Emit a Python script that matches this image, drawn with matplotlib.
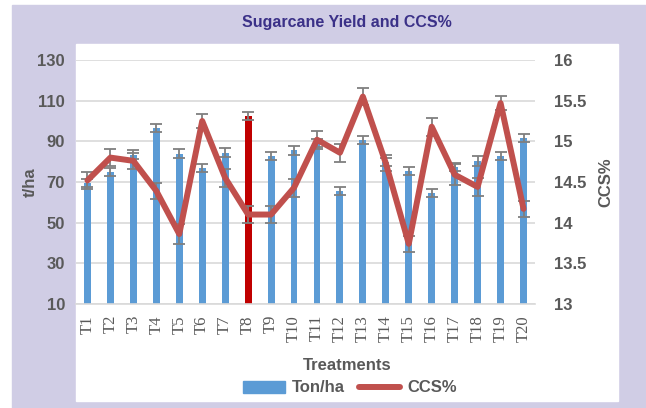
import numpy as np
import matplotlib
matplotlib.use("Agg")
import matplotlib.pyplot as plt
from matplotlib.patches import Rectangle
from matplotlib.lines import Line2D
from matplotlib.patches import Patch

treatments = ["T%d" % i for i in range(1, 21)]
ton_ha = [69.5, 75, 83.5, 96.5, 84, 77, 84.5, 102.5, 83, 85.5,
          89, 65.5, 90.5, 80, 75.5, 64.5, 77.5, 80.5, 83, 91.5]
ton_err = [2, 2, 2, 2, 2, 2, 2, 2, 2, 2,
           2, 2, 2, 2, 2, 2, 2, 2.5, 2, 2]
ccs = [14.52, 14.8, 14.76, 14.39, 13.86, 15.25, 14.55, 14.1, 14.1, 14.43,
       15.02, 14.86, 15.55, 14.73, 13.74, 15.18, 14.59, 14.44, 15.47, 14.17]
ccs_err = [0.1, 0.1, 0.1, 0.1, 0.12, 0.08, 0.11, 0.11, 0.11, 0.11,
           0.11, 0.11, 0.1, 0.1, 0.1, 0.11, 0.13, 0.11, 0.09, 0.1]
highlight = "T8"

W, H = 646, 408
fig = plt.figure(figsize=(W / 100, H / 100), dpi=100)
fig.patch.set_facecolor("white")

def px(x0, y0, x1, y1):
    """figure-fraction rectangle from pixel box"""
    return (x0 / W, 1 - y1 / H), (x1 - x0) / W, (y1 - y0) / H

lav = "#D0CDE5"
xy, w, h = px(12, 5, 646, 408)
fig.patches.append(Rectangle(xy, w, h, transform=fig.transFigure, color=lav, zorder=-10))
xy, w, h = px(76, 44, 618, 401)
fig.patches.append(Rectangle(xy, w, h, transform=fig.transFigure, color="white", zorder=-9))

gray = "#595959"
ax = fig.add_axes([76 / W, 1 - 304 / H, (535 - 76) / W, (304 - 60) / H])
ax.patch.set_alpha(0)
x = np.arange(len(treatments))
colors = ["#C00000" if t == highlight else "#5B9BD5" for t in treatments]
ax.bar(x, ton_ha, width=0.3, color=colors, zorder=2)
ax.errorbar(x, ton_ha, yerr=ton_err, fmt="none", ecolor="#7F7F7F",
            elinewidth=1.3, capsize=4, capthick=1.3, zorder=3)
ax.set_ylim(10, 130)
ax.set_xlim(-0.5, len(treatments) - 0.5)
ax.set_yticks(np.arange(10, 131, 20))
ax.grid(axis="y", color="#D9D9D9", lw=1.2, zorder=0)
ax.set_axisbelow(True)
for s in ["top", "left", "right"]:
    ax.spines[s].set_visible(False)
ax.spines["bottom"].set_color("#D9D9D9")
ax.spines["bottom"].set_linewidth(1.2)
ax.tick_params(length=0)
ax.tick_params(axis="y", pad=8, labelsize=12, labelcolor=gray)
for lab in ax.get_yticklabels():
    lab.set_fontweight("bold")
    lab.set_family("Liberation Sans")
ax.set_xticks(x)
ax.set_xticklabels(treatments, rotation=90, family="Liberation Serif",
                   fontsize=12, color=gray)
ax.tick_params(axis="x", pad=8)
ax.set_ylabel("t/ha", fontsize=12, fontweight="bold", color=gray,
              family="Liberation Sans", labelpad=0)
ax.set_xlabel("Treatments", fontsize=12, fontweight="bold", color=gray,
              family="Liberation Sans", va="center")
ax.xaxis.set_label_coords((347 - 76) / (535 - 76), -(365 - 304) / (304 - 60))

ax2 = ax.twinx()
ax2.plot(x, ccs, color="#C0504D", lw=4.3, solid_joinstyle="round",
         solid_capstyle="round", zorder=4)
ax2.errorbar(x, ccs, yerr=ccs_err, fmt="none", ecolor="#7F7F7F",
             elinewidth=1.3, capsize=4, capthick=1.3, zorder=3)
ax2.set_ylim(13, 16)
ax2.set_yticks(np.arange(13, 16.01, 0.5))
ax2.set_yticklabels(["13", "13.5", "14", "14.5", "15", "15.5", "16"])
for s in ["top", "left", "right", "bottom"]:
    ax2.spines[s].set_visible(False)
ax2.tick_params(length=0, pad=14, labelsize=12, labelcolor=gray)
for lab in ax2.get_yticklabels():
    lab.set_fontweight("bold")
    lab.set_family("Liberation Sans")
ax2.set_ylabel("CCS%", fontsize=12, fontweight="bold", color=gray,
               family="Liberation Sans", labelpad=8)

fig.text(347 / W, 1 - 23 / H, "Sugarcane Yield and CCS%", ha="center", va="center",
         fontsize=11.5, fontweight="bold", color="#3B3188", family="Liberation Sans")

handles = [Patch(color="#5B9BD5", label="Ton/ha"),
           Line2D([], [], color="#C0504D", lw=4.3, solid_capstyle="round", label="CCS%")]
fig.legend(handles=handles, loc="center", bbox_to_anchor=(350 / W, 1 - 388 / H),
           ncol=2, frameon=False, handlelength=2.5, handleheight=0.7,
           columnspacing=0.85, handletextpad=0.4,
           prop={"family": "Liberation Sans", "weight": "bold", "size": 12},
           labelcolor=gray)

fig.savefig("out.png", dpi=100)
